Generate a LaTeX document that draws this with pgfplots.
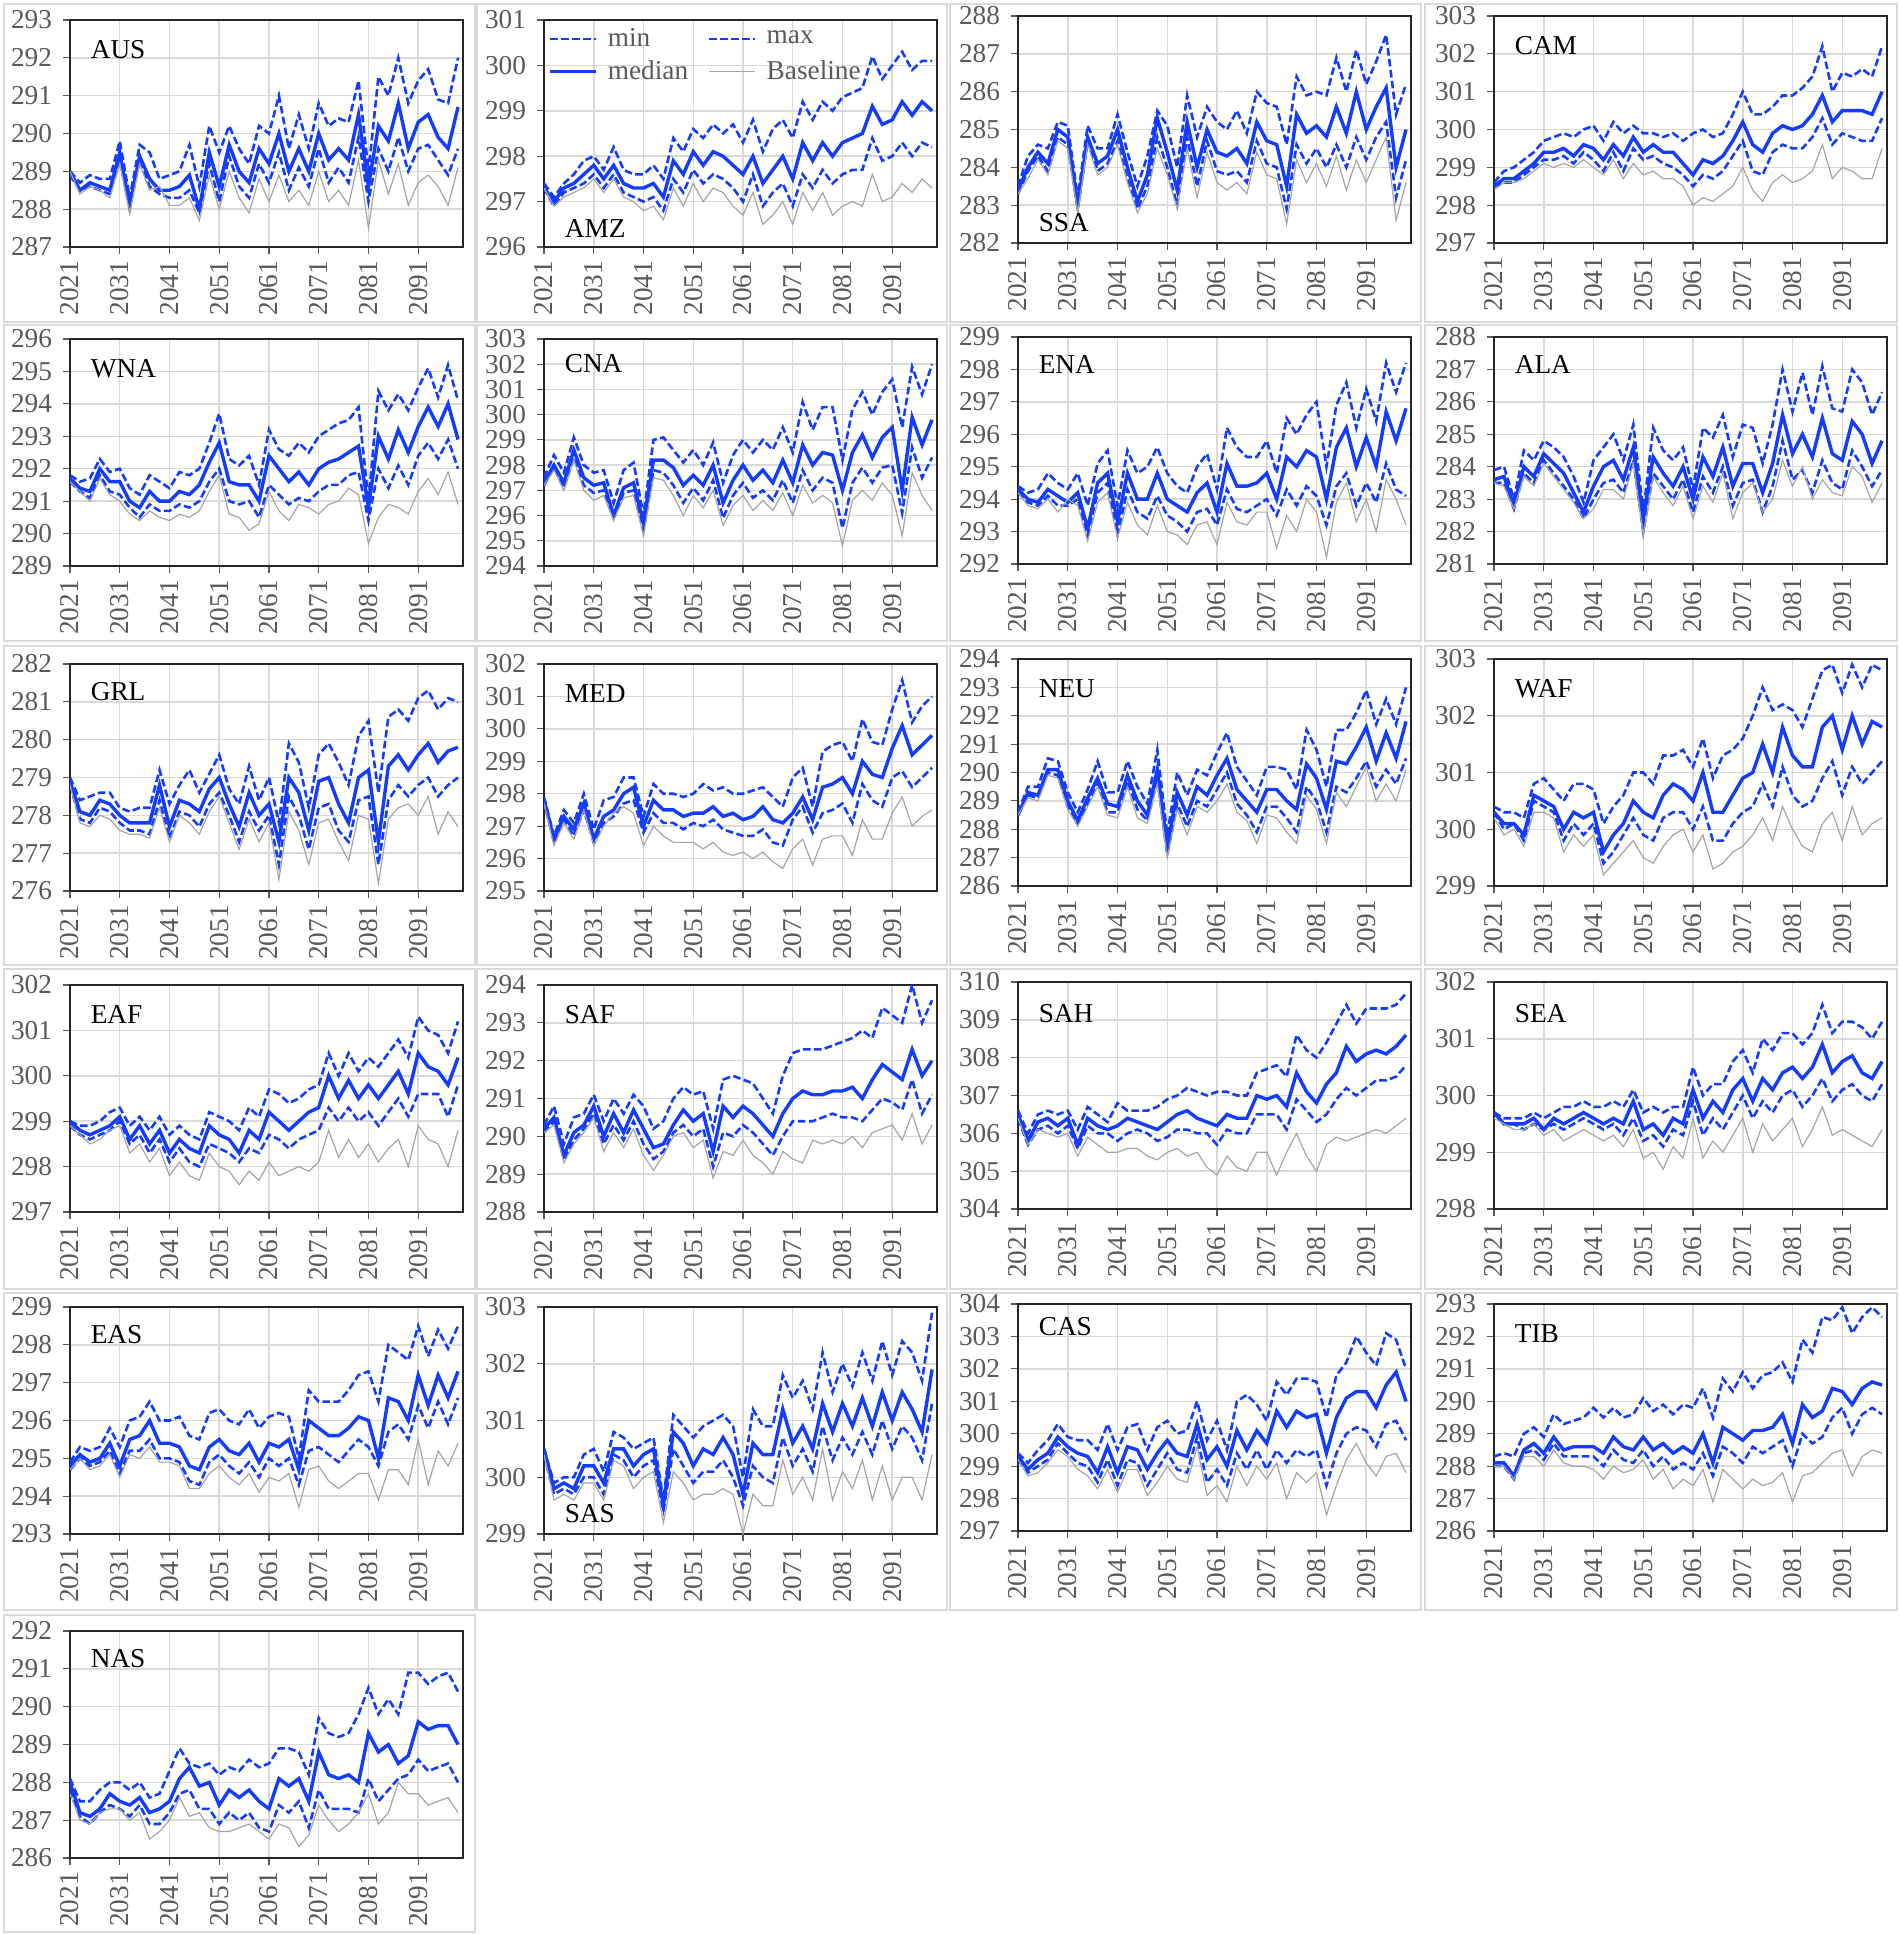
\documentclass[border=0pt]{standalone}
\usepackage{pgfplots}
\pgfplotsset{compat=1.18}
\usepackage{pgfplotstable}
\usepackage{fontspec}
\setmainfont{Liberation Serif}
\definecolor{sblue}{RGB}{20,60,255}
\definecolor{sgray}{RGB}{165,165,165}
\definecolor{tickc}{RGB}{89,89,89}
\definecolor{gridc}{RGB}{217,217,217}
\newcommand\lab{\fontsize{13.7}{16}\selectfont}
\newcommand\rdT[2]{\pgfplotstableread[header=false,row sep=\\]{#2}\tmpT\pgfplotstabletranspose[colnames from=0]#1\tmpT}
\pgfplotsset{
 P/.style={scale only axis, width=196.5bp, height=113.5bp, anchor=north west,
  xmin=2021, xmax=2100, xtick={2021,2031,...,2091}, ytick distance=1,
  grid=major, major grid style={gridc, line width=0.75bp},
  axis line style={black!85, line width=0.75bp},
  tick align=outside, tick pos=left, major tick length=3.5bp,
  tick style={tickc, line width=0.6bp},
  /pgf/number format/assume math mode=true,
  tick label style={font=\lab, text=tickc, /pgf/number format/assume math mode=true},
  xticklabel style={rotate=90, anchor=east, /pgf/number format/1000 sep={}},
  yticklabel style={xshift=-2bp},
  legend image code/.code={\draw[#1] (0bp,0bp) -- (23bp,0bp);},
 },
 dsh/.style={sblue, line width=1.3bp, dash pattern=on 3.8bp off 1.7bp},
 med/.style={sblue, line width=1.7bp},
 bsl/.style={sgray, line width=0.6bp},
 LEG/.style={legend columns=2, legend entries={min,max,median,Baseline}, legend cell align=left,
  legend style={at={(rel axis cs:0,1)}, anchor=north west, yshift=-1bp, draw=none, fill=none, font=\lab, text=tickc,
   inner xsep=2bp, inner ysep=1bp, row sep=1.5bp,
   /tikz/every odd column/.append style={column sep=3bp},
   /tikz/every even column/.append style={column sep=8bp}}},
}
\newcommand\panel[8][]{%
\begin{axis}[P,at={(#2bp,-#3bp)},ymin=#4,ymax=#5,#1]
\addplot[dsh] table[x expr={2021+2*\coordindex},y=L]{#6};
\addplot[dsh] table[x expr={2021+2*\coordindex},y=H]{#6};
\addplot[med] table[x expr={2021+2*\coordindex},y=M]{#6};
\addplot[bsl] table[x expr={2021+2*\coordindex},y=B]{#6};
\node[anchor=west,font=\lab,text=black] at (rel axis cs:0.035,#8){#7};
\end{axis}}

\rdT\tAUS{B 289.0 288.4 288.6 288.5 288.3 289.2 287.9 289.2 288.5 288.6 288.1 288.1 288.3 287.7 288.9 288.0 289.0 288.3 287.9 288.8 288.2 288.9 288.2 288.5 288.1 289.0 288.2 288.5 288.1 289.3 287.5 289.3 288.4 289.2 288.1 288.7 288.9 288.6 288.1 289.1\\
M 289.0 288.5 288.7 288.6 288.5 289.5 288.1 289.4 288.8 288.5 288.5 288.6 288.9 288.0 289.5 288.6 289.7 289.0 288.7 289.6 289.2 290.0 289.0 289.6 289.0 290.0 289.3 289.6 289.3 290.5 288.6 290.2 289.8 290.8 289.6 290.3 290.5 289.9 289.6 290.7\\
L 288.9 288.5 288.6 288.5 288.4 289.3 288.0 289.3 288.6 288.4 288.3 288.3 288.5 287.9 289.2 288.2 289.4 288.6 288.3 289.2 288.7 289.5 288.5 289.1 288.6 289.6 288.7 289.1 288.7 289.9 288.2 289.6 289.0 289.9 289.0 289.6 289.7 289.3 288.9 289.6\\
H 289.0 288.7 288.9 288.8 288.8 289.8 288.3 289.7 289.5 288.8 288.9 289.0 289.7 288.6 290.2 289.5 290.2 289.6 289.2 290.2 290.0 291.0 289.6 290.5 289.6 290.8 290.2 290.4 290.3 291.4 289.0 291.5 291.0 292.0 290.8 291.4 291.7 290.9 290.8 292.0\\}
\rdT\tAMZ{B 297.3 296.9 297.1 297.2 297.3 297.5 297.2 297.5 297.1 297.0 296.8 296.9 296.6 297.3 296.9 297.4 297.0 297.3 297.2 296.9 296.7 297.2 296.5 296.7 297.0 296.5 297.2 296.8 297.2 296.7 296.9 297.0 296.9 297.6 297.0 297.1 297.4 297.2 297.5 297.3\\
M 297.3 297.0 297.3 297.4 297.6 297.8 297.5 297.8 297.4 297.3 297.3 297.4 297.1 297.9 297.6 298.1 297.8 298.1 298.0 297.8 297.6 298.0 297.4 297.7 298.0 297.5 298.3 297.9 298.3 298.0 298.3 298.4 298.5 299.1 298.7 298.8 299.2 298.9 299.2 299.0\\
L 297.3 296.9 297.2 297.3 297.4 297.6 297.3 297.6 297.2 297.1 297.0 297.1 296.8 297.5 297.2 297.7 297.4 297.6 297.5 297.3 297.0 297.6 296.9 297.2 297.4 296.9 297.6 297.3 297.7 297.4 297.6 297.7 297.7 298.4 297.9 298.0 298.3 298.0 298.3 298.2\\
H 297.4 297.1 297.4 297.6 297.9 298.0 297.7 298.2 297.7 297.6 297.6 297.8 297.5 298.4 298.1 298.6 298.4 298.7 298.5 298.7 298.3 298.8 298.1 298.6 298.8 298.4 299.2 298.8 299.2 299.0 299.3 299.4 299.5 300.2 299.7 300.0 300.3 299.9 300.1 300.1\\}
\rdT\tSSA{B 283.3 283.7 284.2 283.8 284.7 284.5 282.8 284.6 283.8 284.0 284.6 283.6 282.8 283.3 284.5 283.8 282.9 284.5 283.2 284.4 283.6 283.4 283.6 283.3 284.4 283.8 283.7 282.5 284.2 283.6 284.1 283.5 284.3 283.4 284.2 283.6 284.2 284.8 282.6 283.6\\
M 283.4 284.0 284.4 284.1 285.0 284.8 283.0 284.8 284.1 284.3 285.0 284.0 283.1 283.8 285.3 284.4 283.4 285.2 284.0 285.0 284.4 284.3 284.5 284.1 285.2 284.7 284.6 283.5 285.4 284.9 285.1 284.8 285.6 284.9 286.0 285.0 285.6 286.1 284.0 285.0\\
L 283.3 283.9 284.3 283.9 284.8 284.6 282.9 284.7 283.9 284.1 284.7 283.7 282.9 283.5 284.8 284.0 283.0 284.8 283.5 284.7 283.9 283.8 283.9 283.6 284.7 284.1 284.0 282.9 284.6 284.1 284.5 284.0 284.6 284.0 284.8 284.2 284.8 285.2 283.2 284.2\\
H 283.5 284.3 284.6 284.5 285.2 285.1 283.2 285.1 284.5 284.5 285.4 284.4 283.5 284.3 285.5 285.1 284.0 285.9 284.8 285.6 285.2 285.0 285.5 284.9 286.0 285.7 285.6 284.6 286.4 285.9 286.0 285.9 286.9 286.0 287.1 286.2 286.8 287.5 285.4 286.2\\}
\rdT\tCAM{B 298.4 298.6 298.6 298.7 298.9 299.1 299.0 299.1 299.0 299.2 299.0 298.8 299.2 298.7 299.1 298.8 298.9 298.7 298.7 298.5 298.0 298.2 298.1 298.3 298.5 299.0 298.4 298.1 298.6 298.8 298.6 298.7 298.9 299.6 298.7 299.0 298.9 298.7 298.7 299.5\\
M 298.5 298.7 298.7 298.9 299.1 299.4 299.4 299.5 299.3 299.6 299.5 299.2 299.6 299.3 299.8 299.4 299.6 299.4 299.4 299.1 298.8 299.2 299.1 299.3 299.7 300.2 299.6 299.4 299.9 300.1 300.0 300.1 300.4 300.9 300.2 300.5 300.5 300.5 300.4 301.0\\
L 298.5 298.6 298.6 298.8 299.0 299.2 299.2 299.3 299.1 299.4 299.2 298.9 299.4 298.9 299.5 299.2 299.3 299.1 299.0 298.8 298.5 298.8 298.7 298.9 299.3 299.7 298.9 298.8 299.4 299.6 299.5 299.5 299.8 300.3 299.6 299.9 299.8 299.7 299.7 300.3\\
H 298.6 298.9 299.0 299.2 299.4 299.7 299.8 299.9 299.8 300.0 300.1 299.7 300.2 299.9 300.1 299.9 299.9 299.8 299.9 299.7 299.9 300.0 299.8 299.9 300.4 301.0 300.4 300.4 300.6 300.9 300.9 301.1 301.4 302.2 301.0 301.5 301.4 301.6 301.4 302.2\\}
\rdT\tWNA{B 291.6 291.3 291.0 291.7 291.2 291.0 290.6 290.4 290.7 290.5 290.4 290.6 290.5 290.7 291.3 291.8 290.6 290.5 290.1 290.3 291.3 290.7 290.4 290.9 290.8 290.6 290.9 291.0 291.4 291.2 289.7 290.5 290.9 290.8 290.6 291.3 291.7 291.2 291.9 290.9\\
M 291.7 291.4 291.3 292.0 291.6 291.6 291.0 290.8 291.3 291.0 291.0 291.3 291.2 291.5 292.2 292.8 291.6 291.5 291.5 291.0 292.4 292.0 291.6 291.9 291.5 292.0 292.2 292.3 292.5 292.7 290.8 293.0 292.3 293.2 292.5 293.3 293.9 293.3 294.0 292.9\\
L 291.6 291.3 291.1 291.8 291.3 291.2 290.8 290.5 290.9 290.7 290.7 290.9 290.8 291.0 291.6 292.0 291.0 290.9 291.0 290.5 291.5 291.2 290.9 291.1 291.0 291.3 291.5 291.5 291.8 291.9 290.4 292.0 291.4 292.1 291.5 292.4 292.8 292.3 292.9 292.0\\
H 291.8 291.6 291.7 292.3 291.9 292.0 291.4 291.2 291.8 291.6 291.4 291.9 291.8 292.0 292.8 293.7 292.3 292.1 292.4 291.5 293.2 292.6 292.4 292.8 292.5 293.0 293.2 293.4 293.5 293.9 291.0 294.4 293.8 294.3 293.8 294.5 295.1 294.2 295.2 294.1\\}
\rdT\tCNA{B 297.2 297.8 297.0 298.2 297.0 296.6 296.8 295.8 296.7 296.8 295.2 297.5 297.4 296.8 296.0 296.8 296.3 297.0 295.6 296.4 296.8 296.2 296.6 296.2 296.9 296.0 297.2 296.5 296.8 296.5 294.8 296.6 297.0 296.6 297.3 296.8 295.2 297.7 296.8 296.2\\
M 297.3 298.0 297.3 298.6 297.5 297.2 297.3 296.0 297.1 297.3 295.7 298.2 298.2 297.9 297.2 297.6 297.2 298.0 296.5 297.4 298.0 297.4 297.8 297.3 298.2 297.3 298.8 298.0 298.5 298.4 297.0 298.5 299.2 298.3 299.1 299.5 297.0 299.9 298.8 299.8\\
L 297.2 297.9 297.1 298.3 297.2 296.9 297.0 295.9 296.9 297.0 295.4 297.8 297.7 297.2 296.5 297.1 296.6 297.4 295.9 296.8 297.3 296.7 297.0 296.6 297.4 296.5 297.8 297.0 297.5 297.3 295.5 297.3 297.9 297.3 297.9 298.0 296.1 298.7 297.5 298.3\\
H 297.5 298.4 297.7 299.1 298.0 297.7 297.8 296.5 297.8 298.1 296.0 299.0 299.1 298.6 298.1 298.6 298.0 298.9 297.3 298.4 299.0 298.5 299.0 298.6 299.5 298.5 300.5 299.4 300.3 300.3 298.2 300.2 300.9 300.0 300.9 301.4 299.5 301.9 300.8 302.0\\}
\rdT\tENA{B 294.2 293.8 293.7 294.0 293.6 294.0 293.8 292.7 293.9 294.2 292.8 293.9 293.2 292.9 293.8 293.0 292.9 292.6 293.2 293.3 292.6 293.9 293.3 293.2 293.6 293.6 292.5 293.5 293.0 294.0 293.6 292.2 293.9 294.5 293.3 294.0 293.0 294.6 294.0 293.2\\
M 294.3 294.0 293.9 294.3 294.1 293.9 294.2 293.1 294.5 294.8 293.3 294.8 294.0 294.0 294.8 294.0 293.8 293.6 294.2 294.5 293.6 295.1 294.4 294.4 294.5 294.8 294.0 295.3 295.0 295.5 295.3 294.0 295.6 296.2 295.0 295.9 295.0 296.7 295.8 296.8\\
L 294.2 293.9 293.8 294.1 293.8 293.8 294.0 292.9 294.2 294.5 292.9 294.3 293.6 293.4 294.1 293.5 293.3 293.0 293.6 293.7 293.2 294.3 293.7 293.6 293.8 294.0 293.5 294.3 293.8 294.4 294.1 293.2 294.4 294.8 293.8 294.5 293.9 295.1 294.3 294.1\\
H 294.4 294.2 294.3 294.8 294.5 294.3 294.8 293.8 295.1 295.5 293.8 295.5 294.8 295.0 295.6 294.8 294.4 294.2 295.0 295.4 294.3 296.2 295.6 295.3 295.3 295.8 294.8 296.5 296.0 296.6 297.0 295.0 296.9 297.6 296.2 297.4 296.4 298.2 297.3 298.2\\}
\rdT\tALA{B 283.5 283.4 282.7 283.7 283.4 284.1 283.7 283.3 282.9 282.4 282.7 283.3 283.3 283.0 284.1 281.9 283.7 283.2 282.8 283.4 282.4 283.4 282.9 283.8 282.4 283.2 283.5 282.6 283.0 284.2 283.4 284.0 283.0 283.6 283.2 283.1 284.0 283.7 282.9 283.5\\
M 283.6 283.7 282.8 284.0 283.7 284.4 284.1 283.8 283.2 282.6 283.4 284.0 284.2 283.6 284.6 282.4 284.3 283.8 283.4 284.0 283.0 284.3 283.7 284.6 283.4 284.1 284.1 283.2 284.1 285.6 284.4 285.0 284.3 285.5 284.4 284.2 285.4 285.0 284.1 284.8\\
L 283.5 283.5 282.7 283.8 283.5 284.2 283.8 283.4 283.0 282.4 283.0 283.5 283.6 283.2 284.2 282.0 283.8 283.4 283.0 283.6 282.6 283.7 283.2 284.0 282.8 283.5 283.6 282.6 283.4 284.8 283.6 283.9 283.2 284.2 283.5 283.3 284.5 284.0 283.4 283.9\\
H 283.9 284.0 283.0 284.5 284.2 284.8 284.6 284.3 283.7 282.9 284.2 284.6 285.0 284.2 285.3 282.6 285.2 284.5 284.2 284.6 283.3 285.2 284.9 285.6 284.3 285.3 285.2 284.1 285.3 287.0 285.7 286.9 285.6 287.1 285.8 285.7 287.0 286.6 285.6 286.3\\}
\rdT\tGRL{B 278.8 277.8 277.7 278.0 277.9 277.6 277.5 277.5 277.4 278.2 277.3 278.0 277.8 277.5 278.1 278.5 277.8 277.1 277.9 277.3 277.8 276.3 278.1 277.6 276.7 277.8 277.9 277.3 276.8 278.0 277.9 276.2 277.9 278.2 278.3 278.0 278.5 277.5 278.1 277.7\\
M 278.9 278.1 278.0 278.4 278.3 278.0 277.8 277.8 277.8 278.8 277.7 278.4 278.3 278.1 278.7 279.0 278.3 277.7 278.6 278.0 278.3 277.3 279.0 278.6 277.6 278.9 279.0 278.3 277.8 279.0 279.2 277.3 279.3 279.6 279.2 279.6 279.9 279.4 279.7 279.8\\
L 278.8 277.9 277.8 278.2 278.1 277.8 277.6 277.6 277.5 278.4 277.4 278.1 278.0 277.7 278.3 278.6 278.0 277.3 278.1 277.6 278.0 276.7 278.5 278.0 277.1 278.2 278.3 277.6 277.3 278.4 278.5 276.7 278.4 278.8 278.5 278.8 279.0 278.5 278.8 279.0\\
H 279.0 278.4 278.5 278.6 278.6 278.2 278.1 278.2 278.2 279.2 278.3 278.8 279.2 278.6 279.1 279.6 278.7 278.3 279.3 278.4 279.0 277.8 279.9 279.4 278.2 279.6 279.9 279.4 278.8 280.1 280.5 278.6 280.6 280.8 280.5 281.1 281.3 280.8 281.1 281.0\\}
\rdT\tMED{B 297.7 296.4 297.1 296.6 297.5 296.4 297.0 297.4 297.6 297.4 296.4 297.0 296.7 296.5 296.5 296.5 296.3 296.5 296.2 296.1 296.2 296.0 296.2 295.9 295.7 296.3 296.6 295.8 296.6 296.7 296.7 296.1 297.2 296.6 296.6 297.4 297.9 297.0 297.3 297.5\\
M 297.8 296.6 297.3 296.9 297.7 296.6 297.3 297.5 298.0 298.2 297.0 297.8 297.5 297.5 297.3 297.4 297.4 297.6 297.3 297.4 297.2 297.3 297.6 297.2 297.1 297.4 297.9 297.2 298.2 298.3 298.5 298.0 299.0 298.6 298.5 299.4 300.1 299.2 299.5 299.8\\
L 297.8 296.5 297.2 296.7 297.5 296.5 297.1 297.3 297.7 297.8 296.8 297.4 297.1 297.1 296.9 297.1 297.0 297.2 296.9 296.8 296.7 296.7 296.9 296.5 296.4 297.2 297.6 296.8 297.4 297.5 297.7 297.1 298.3 297.8 297.6 298.5 298.7 298.2 298.5 298.8\\
H 297.9 296.7 297.5 297.1 298.0 296.9 297.8 297.9 298.5 298.5 297.3 298.3 298.0 298.0 297.9 298.0 298.3 298.1 298.2 298.0 298.0 298.1 298.2 297.9 297.6 298.5 298.8 297.6 299.3 299.5 299.6 299.0 300.3 299.6 299.5 300.6 301.5 300.2 300.7 301.0\\}
\rdT\tNEU{B 288.5 289.1 289.0 289.9 289.8 288.7 288.1 288.8 289.5 288.5 288.4 289.5 288.4 288.2 289.6 287.0 288.7 287.8 288.8 288.6 289.0 289.6 288.6 288.3 287.5 288.5 288.4 287.9 287.5 289.2 288.7 287.5 289.3 288.8 289.5 290.2 289.0 289.6 289.0 290.1\\
M 288.5 289.3 289.2 290.1 290.1 289.0 288.3 289.1 289.8 288.9 288.8 289.9 289.0 288.5 290.1 287.4 289.3 288.5 289.5 289.2 289.9 290.5 289.4 289.0 288.6 289.4 289.4 289.0 288.7 290.3 289.8 288.7 290.4 290.3 290.9 291.6 290.4 291.4 290.5 291.8\\
L 288.5 289.2 289.1 290.0 289.9 288.8 288.2 288.9 289.6 288.6 288.6 289.7 288.7 288.3 289.8 287.1 288.9 288.1 289.0 288.8 289.4 290.0 288.9 288.5 287.9 288.8 288.8 288.4 287.9 289.5 289.0 287.9 289.5 289.3 289.8 290.4 289.5 290.1 289.6 290.5\\
H 288.6 289.5 289.5 290.5 290.4 289.3 288.6 289.4 290.4 289.3 289.3 290.4 289.5 288.9 290.8 287.8 290.0 289.2 290.1 289.9 290.7 291.4 290.2 289.7 289.2 290.2 290.2 290.1 289.4 291.5 290.8 289.5 291.5 291.5 292.1 292.9 291.7 292.6 291.7 293.0\\}
\rdT\tWAF{B 300.2 299.9 300.0 299.7 300.3 300.3 300.2 299.6 299.9 299.7 299.9 299.2 299.4 299.6 299.8 299.5 299.4 299.7 299.9 300.0 299.6 299.9 299.3 299.4 299.6 299.7 299.9 300.2 299.8 300.4 300.0 299.7 299.6 300.1 300.3 299.8 300.4 299.9 300.1 300.2\\
M 300.3 300.1 300.1 299.9 300.6 300.5 300.4 300.0 300.3 300.2 300.3 299.6 299.9 300.1 300.5 300.3 300.2 300.6 300.8 300.7 300.5 301.0 300.3 300.3 300.6 300.9 301.0 301.5 301.0 301.8 301.3 301.1 301.1 301.8 302.0 301.4 302.0 301.5 301.9 301.8\\
L 300.3 300.0 300.1 299.8 300.5 300.4 300.3 299.8 300.1 299.9 300.1 299.4 299.6 299.9 300.2 299.9 299.8 300.2 300.3 300.3 300.0 300.4 299.8 299.8 300.1 300.3 300.4 300.8 300.4 301.1 300.6 300.4 300.5 300.9 301.2 300.6 301.1 300.8 301.0 301.2\\
H 300.4 300.3 300.3 300.2 300.8 300.9 300.7 300.5 300.8 300.8 300.7 300.1 300.4 300.6 301.0 301.0 300.8 301.3 301.3 301.4 301.1 301.6 300.9 301.3 301.4 301.6 302.0 302.5 302.1 302.2 302.1 301.8 302.3 302.8 302.9 302.4 302.9 302.5 302.9 302.8\\}
\rdT\tEAF{B 298.9 298.7 298.5 298.6 298.8 298.9 298.3 298.5 298.1 298.4 297.8 298.1 297.8 297.7 298.3 298.0 297.9 297.6 297.9 297.7 298.1 297.8 297.9 298.0 297.9 298.1 298.8 298.2 298.6 298.2 298.5 298.1 298.4 298.6 298.0 298.9 298.6 298.5 298.0 298.8\\
M 299.0 298.8 298.7 298.8 298.9 299.1 298.6 298.9 298.5 298.8 298.3 298.6 298.4 298.3 298.9 298.7 298.6 298.3 298.8 298.6 299.2 299.0 298.8 299.0 299.2 299.3 300.0 299.5 299.9 299.5 299.8 299.5 299.8 300.1 299.6 300.5 300.2 300.1 299.8 300.4\\
L 298.9 298.7 298.6 298.7 298.8 299.0 298.5 298.7 298.3 298.6 298.1 298.4 298.1 298.0 298.5 298.4 298.3 298.1 298.4 298.3 298.7 298.6 298.4 298.6 298.7 298.8 299.3 299.0 299.3 299.0 299.2 298.9 299.2 299.5 299.1 299.6 299.6 299.6 299.1 299.8\\
H 299.0 298.9 298.9 299.0 299.2 299.3 298.9 299.1 298.8 299.1 298.7 298.9 298.7 298.6 299.2 299.1 299.0 298.8 299.3 299.1 299.7 299.6 299.4 299.5 299.7 299.8 300.5 300.0 300.5 300.1 300.4 300.2 300.5 300.8 300.4 301.3 301.0 300.9 300.5 301.2\\}
\rdT\tSAF{B 290.1 290.3 289.3 289.8 290.1 290.5 289.6 290.1 289.7 290.2 289.5 289.1 289.5 290.0 290.1 289.7 289.9 288.9 289.6 289.5 289.9 289.5 289.3 289.0 289.6 289.4 289.3 289.9 289.8 289.9 289.8 290.0 289.7 290.1 290.2 290.3 289.9 290.6 289.8 290.3\\
M 290.2 290.5 289.5 290.1 290.3 290.8 290.0 290.6 290.1 290.7 290.2 289.7 289.8 290.3 290.7 290.4 290.6 289.6 290.8 290.5 290.8 290.6 290.3 290.0 290.6 291.0 291.2 291.1 291.1 291.2 291.2 291.3 291.0 291.5 291.9 291.7 291.5 292.3 291.6 292.0\\
L 290.1 290.4 289.4 289.9 290.2 290.6 289.8 290.3 289.9 290.4 289.8 289.4 289.6 290.1 290.3 290.0 290.2 289.2 290.1 290.0 290.3 290.1 289.8 289.5 290.0 290.4 290.4 290.4 290.5 290.6 290.5 290.5 290.4 290.7 291.0 290.9 290.7 291.5 290.6 291.1\\
H 290.3 290.8 289.8 290.5 290.6 291.1 290.4 291.0 290.6 291.1 290.8 290.2 290.4 291.0 291.3 291.1 291.2 290.2 291.5 291.6 291.5 291.4 291.0 290.6 291.6 292.2 292.3 292.3 292.3 292.4 292.5 292.6 292.8 292.6 293.4 293.2 293.0 294.0 293.0 293.6\\}
\rdT\tSAH{B 306.4 305.7 306.1 306.0 305.9 306.0 305.4 305.9 305.7 305.5 305.5 305.6 305.6 305.4 305.3 305.5 305.6 305.4 305.5 305.1 304.9 305.4 305.1 305.0 305.5 305.5 304.9 305.5 306.0 305.4 305.0 305.7 305.9 305.8 305.9 306.0 306.1 306.0 306.2 306.4\\
M 306.5 305.8 306.3 306.4 306.2 306.4 305.7 306.4 306.2 306.1 306.2 306.4 306.3 306.2 306.1 306.3 306.5 306.6 306.4 306.3 306.2 306.5 306.4 306.4 307.0 306.9 307.0 306.7 307.6 307.1 306.8 307.3 307.6 308.3 307.9 308.1 308.2 308.1 308.3 308.6\\
L 306.4 305.7 306.1 306.2 306.0 306.2 305.6 306.2 306.0 306.0 305.8 306.0 306.1 306.0 305.8 305.9 306.1 306.1 306.0 306.0 305.7 306.1 306.0 306.0 306.5 306.5 306.5 306.1 306.9 306.6 306.3 306.5 306.9 307.2 307.0 307.2 307.4 307.4 307.5 307.8\\
H 306.6 306.0 306.5 306.6 306.5 306.6 306.1 306.7 306.5 306.3 306.8 306.6 306.6 306.6 306.7 306.9 307.0 307.2 307.1 307.0 307.1 307.1 307.0 307.0 307.6 307.7 307.8 307.5 308.6 308.2 308.0 308.4 308.9 309.4 308.9 309.3 309.3 309.3 309.4 309.7\\}
\rdT\tSEA{B 299.6 299.5 299.4 299.4 299.5 299.3 299.4 299.2 299.3 299.4 299.3 299.2 299.3 299.1 299.4 298.9 299.0 298.7 299.1 298.9 299.6 298.9 299.2 299.0 299.3 299.6 299.0 299.5 299.2 299.4 299.6 299.1 299.4 299.8 299.3 299.4 299.3 299.2 299.1 299.4\\
M 299.7 299.5 299.5 299.5 299.6 299.4 299.6 299.5 299.6 299.7 299.6 299.5 299.6 299.5 299.9 299.4 299.5 299.3 299.6 299.5 300.1 299.6 299.9 299.7 300.1 300.3 299.9 300.3 300.1 300.4 300.5 300.3 300.5 300.9 300.4 300.6 300.7 300.4 300.3 300.6\\
L 299.7 299.5 299.5 299.4 299.5 299.4 299.5 299.4 299.5 299.6 299.5 299.4 299.5 299.3 299.6 299.2 299.3 299.1 299.4 299.3 299.9 299.3 299.6 299.4 299.7 300.0 299.6 299.9 299.7 300.0 300.1 299.8 300.0 300.3 299.9 300.1 300.2 300.0 299.9 300.2\\
H 299.7 299.6 299.6 299.6 299.7 299.6 299.7 299.8 299.8 299.9 299.8 299.8 299.9 299.8 300.1 299.7 299.8 299.7 299.8 299.8 300.5 300.0 300.2 300.2 300.6 300.8 300.4 301.0 300.8 301.1 301.1 300.9 301.1 301.6 301.1 301.3 301.3 301.2 301.0 301.3\\}
\rdT\tEAS{B 294.7 295.0 294.7 294.8 295.1 294.5 295.1 295.0 295.3 294.9 294.9 294.8 294.2 294.2 294.6 294.8 294.5 294.3 294.6 294.1 294.5 294.4 294.6 293.7 294.7 294.8 294.4 294.2 294.4 294.6 294.6 293.9 294.7 294.7 294.3 295.5 294.3 295.2 294.8 295.4\\
M 294.8 295.1 294.9 295.0 295.4 294.8 295.5 295.6 296.0 295.4 295.4 295.3 294.8 294.7 295.3 295.5 295.2 295.1 295.4 294.9 295.4 295.3 295.5 294.7 296.0 295.8 295.6 295.6 295.8 296.1 296.0 295.0 296.6 296.5 296.0 297.2 296.4 297.2 296.6 297.3\\
L 294.7 295.0 294.8 294.9 295.2 294.6 295.2 295.2 295.5 295.0 295.0 294.9 294.4 294.3 294.9 295.1 294.8 294.6 294.9 294.5 295.0 294.8 295.0 294.3 295.2 295.3 295.1 294.9 295.2 295.5 295.3 294.8 295.7 295.9 295.5 296.4 295.8 296.5 295.9 296.6\\
H 294.9 295.3 295.2 295.3 295.8 295.3 296.0 296.1 296.5 296.0 296.0 296.1 295.6 295.5 296.2 296.3 296.0 295.9 296.3 295.8 296.1 296.2 296.1 295.0 296.8 296.5 296.5 296.5 296.8 297.2 297.3 296.5 298.0 297.8 297.6 298.5 297.7 298.4 297.9 298.5\\}
\rdT\tSAS{B 300.4 299.6 299.7 299.6 299.9 299.9 299.6 300.3 300.2 299.8 300.0 300.1 299.2 300.1 299.9 299.6 299.7 299.7 299.8 299.7 299.0 299.7 299.5 299.5 300.3 299.7 300.0 299.6 300.5 299.6 300.1 299.8 300.3 299.6 300.2 299.6 300.0 300.0 299.6 300.4\\
M 300.5 299.8 299.9 299.8 300.2 300.2 299.9 300.5 300.5 300.2 300.4 300.5 299.5 300.8 300.6 300.2 300.5 300.4 300.7 300.4 299.7 300.6 300.4 300.4 301.2 300.6 300.9 300.5 301.3 300.8 301.3 300.9 301.4 300.9 301.5 301.0 301.5 301.2 300.8 301.9\\
L 300.4 299.7 299.8 299.7 300.0 300.0 299.7 300.4 300.3 300.0 300.2 300.3 299.4 300.5 300.2 299.9 300.1 300.1 300.3 300.0 299.5 300.2 300.0 299.9 300.7 300.2 300.5 300.1 300.9 300.3 300.7 300.4 300.8 300.4 301.0 300.5 300.9 300.7 300.3 301.3\\
H 300.5 299.9 300.0 300.0 300.4 300.5 300.1 300.8 300.7 300.5 300.6 300.7 299.6 301.1 300.9 300.7 300.9 301.0 301.1 300.9 300.0 301.2 300.9 300.9 301.8 301.4 301.7 301.2 302.2 301.5 302.0 301.6 302.2 301.7 302.4 301.8 302.4 302.2 301.7 302.9\\}
\rdT\tCAS{B 299.2 298.7 298.8 299.1 299.5 299.3 298.9 298.7 298.3 298.9 298.2 298.9 298.9 298.1 298.5 299.0 298.6 298.5 299.6 298.1 298.4 297.9 299.0 298.4 299.0 298.6 299.1 298.0 298.8 298.5 298.8 297.5 298.4 299.2 299.7 299.1 298.7 299.3 299.4 298.8\\
M 299.3 298.9 299.2 299.4 299.9 299.6 299.4 299.3 298.8 299.6 298.8 299.6 299.5 298.9 299.4 299.8 299.4 299.3 300.3 299.2 299.6 299.0 300.1 299.5 300.1 299.7 300.7 300.2 300.7 300.5 300.6 299.4 300.5 301.1 301.3 301.3 300.8 301.5 301.9 301.0\\
L 299.2 298.8 299.0 299.2 299.7 299.4 299.1 299.0 298.5 299.2 298.4 299.2 299.1 298.4 298.9 299.4 298.9 298.8 299.9 298.5 298.9 298.4 299.4 298.9 299.5 298.9 299.5 299.1 299.5 299.3 299.5 298.4 299.4 300.0 300.2 300.1 299.6 300.3 300.4 299.8\\
H 299.4 299.1 299.5 299.8 300.3 299.9 299.8 299.8 299.5 300.3 299.5 300.2 300.3 299.5 300.2 300.4 300.0 300.1 301.0 299.8 300.4 299.5 301.0 301.2 300.9 300.4 301.6 301.2 301.7 301.7 301.6 300.5 301.8 302.2 303.0 302.5 302.1 303.1 302.9 302.0\\}
\rdT\tTIB{B 288.0 288.0 287.6 288.3 288.3 288.0 288.5 288.1 288.0 288.0 287.9 287.6 288.0 287.8 287.9 288.2 287.6 287.9 287.3 287.6 287.4 287.9 286.9 287.9 287.6 287.3 287.6 287.4 287.5 287.8 286.9 287.7 287.8 288.1 288.4 288.5 287.7 288.3 288.5 288.4\\
M 288.1 288.1 287.7 288.5 288.7 288.4 288.9 288.5 288.6 288.6 288.6 288.4 288.9 288.6 288.5 288.9 288.5 288.7 288.4 288.6 288.4 289.0 288.1 289.2 289.0 288.8 289.1 289.1 289.2 289.6 288.7 289.9 289.5 289.7 290.4 290.3 289.9 290.4 290.6 290.5\\
L 288.0 288.0 287.6 288.4 288.5 288.2 288.7 288.3 288.3 288.3 288.3 288.0 288.5 288.2 288.1 288.5 288.0 288.3 287.9 288.1 287.9 288.4 287.7 288.6 288.4 288.1 288.6 288.4 288.6 288.8 288.0 289.0 288.7 288.9 289.5 289.8 289.0 289.6 289.8 289.6\\
H 288.3 288.4 288.3 289.0 289.2 288.9 289.6 289.3 289.4 289.5 289.8 289.5 289.8 289.5 289.6 290.1 289.7 289.9 289.6 289.9 289.8 290.4 289.5 290.7 290.3 290.9 290.4 290.8 290.9 291.2 290.6 291.9 291.5 292.6 292.5 292.9 292.1 292.6 292.9 292.6\\}
\rdT\tNAS{B 287.7 287.0 286.9 287.2 287.3 287.3 287.0 287.2 286.5 286.7 287.0 287.6 287.1 287.2 286.8 286.7 286.7 286.8 286.9 286.7 286.5 286.9 286.8 286.3 286.6 287.4 287.0 286.7 286.9 287.2 287.7 286.9 287.2 288.0 287.7 287.7 287.4 287.5 287.6 287.2\\
M 288.0 287.2 287.1 287.3 287.7 287.5 287.4 287.6 287.2 287.3 287.5 288.1 288.4 287.9 288.0 287.4 287.8 287.6 287.8 287.5 287.3 288.1 287.9 288.1 287.5 288.8 288.2 288.1 288.2 288.0 289.3 288.8 289.0 288.5 288.7 289.6 289.4 289.5 289.5 289.0\\
L 287.8 287.1 286.9 287.2 287.4 287.3 287.1 287.4 286.9 286.9 287.2 287.7 287.8 287.3 287.3 286.9 287.2 287.0 287.2 286.8 286.7 287.4 287.2 287.5 286.8 287.8 287.3 287.3 287.3 287.2 288.1 287.5 287.8 288.1 288.2 288.6 288.3 288.4 288.5 288.0\\
H 288.1 287.5 287.5 287.8 288.0 288.0 287.8 288.0 287.6 287.7 288.3 288.9 288.5 288.4 288.5 288.2 288.4 288.3 288.6 288.4 288.5 288.9 288.9 288.8 288.2 289.7 289.3 289.2 289.3 289.8 290.5 289.8 290.2 289.8 290.9 290.9 290.6 290.8 290.9 290.4\\}

\begin{document}
\begin{tikzpicture}[x=1bp,y=1bp]
\useasboundingbox (0,0) rectangle (950,-967);
\panel{35}{10}{287}{293}{\tAUS}{AUS}{0.87}
\panel[LEG]{272}{10}{296}{301}{\tAMZ}{AMZ}{0.08}
\panel{509}{8}{282}{288}{\tSSA}{SSA}{0.09}
\panel{747}{8}{297}{303}{\tCAM}{CAM}{0.87}
\panel{35}{169.5}{289}{296}{\tWNA}{WNA}{0.87}
\panel{272}{169.5}{294}{303}{\tCNA}{CNA}{0.89}
\panel{509}{168.5}{292}{299}{\tENA}{ENA}{0.88}
\panel{747}{168.5}{281}{288}{\tALA}{ALA}{0.88}
\panel{35}{332}{276}{282}{\tGRL}{GRL}{0.88}
\panel{272}{332}{295}{302}{\tMED}{MED}{0.87}
\panel{509}{329.5}{286}{294}{\tNEU}{NEU}{0.87}
\panel{747}{329.5}{299}{303}{\tWAF}{WAF}{0.87}
\panel{35}{492.5}{297}{302}{\tEAF}{EAF}{0.87}
\panel{272}{492.5}{288}{294}{\tSAF}{SAF}{0.87}
\panel{509}{491}{304}{310}{\tSAH}{SAH}{0.86}
\panel{747}{491}{298}{302}{\tSEA}{SEA}{0.86}
\panel{35}{653.5}{293}{299}{\tEAS}{EAS}{0.88}
\panel{272}{653.5}{299}{303}{\tSAS}{SAS}{0.09}
\panel{509}{652}{297}{304}{\tCAS}{CAS}{0.9}
\panel{747}{652}{286}{293}{\tTIB}{TIB}{0.87}
\panel{35}{815.5}{286}{292}{\tNAS}{NAS}{0.88}
\foreach \xa/\xb in {2/237.5,238.5/473.5,475/710.5,712.5/948.5}
 \foreach \ya/\yb in {2/161,162.5/320.5,323/482.5,484.5/644.5,646.5/805}
  {\draw[gridc,line width=0.75bp] (\xa,-\ya) rectangle (\xb,-\yb);}
\draw[gridc,line width=0.75bp] (2,-807.5) rectangle (237.5,-966);
\end{tikzpicture}
\end{document}
